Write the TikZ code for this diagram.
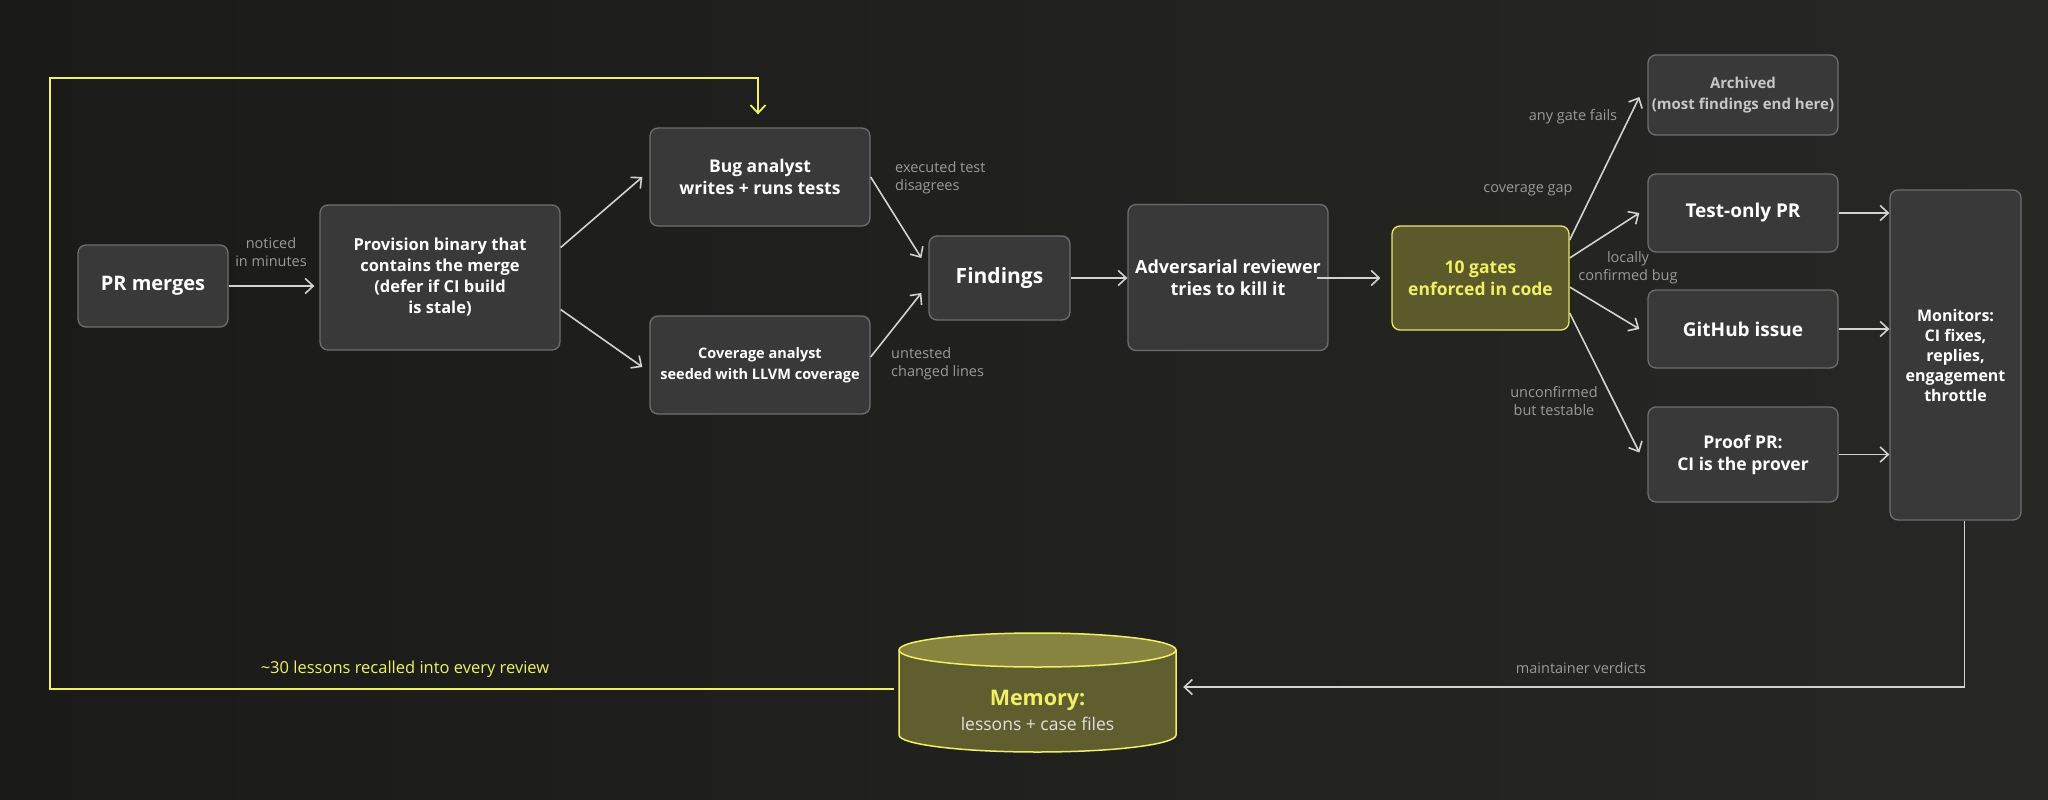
\documentclass[tikz,border=0pt]{standalone}
\usepackage{xcolor}
\usepackage{fontspec}
\setmainfont{Open Sans}
\usepackage{tikz}
\usetikzlibrary{arrows.meta,positioning,calc}

\definecolor{bgdark}{HTML}{1A1A19}
\definecolor{bglight}{HTML}{272723}
\definecolor{boxfill}{HTML}{393939}
\definecolor{boxline}{HTML}{6E6E6E}
\definecolor{gatefill}{HTML}{5C5A2A}
\definecolor{gateline}{HTML}{E8E878}
\definecolor{memtop}{HTML}{86843F}
\definecolor{membody}{HTML}{605E2E}
\definecolor{loopyellow}{HTML}{F0F066}
\definecolor{linkgray}{HTML}{D2D2D2}
\definecolor{labelgray}{HTML}{9A9A9A}

\newcommand{\fs}[2]{\fontsize{#1}{#2}\selectfont}

\tikzset{
  stagebox/.style={draw=boxline, fill=boxfill, line width=1.3pt, rounded corners=8pt,
    align=center, text=white, inner sep=0pt, font=\bfseries},
  link/.style={draw=linkgray, line width=1.6pt, -{Straight Barb[length=8pt,width=15pt]}},
  edgelabel/.style={text=labelgray, align=center, inner sep=0pt, font=\fs{14.5}{18}},
}

\begin{document}
\begin{tikzpicture}[x=1pt, y=-1pt]
            % background
            \shade[left color=bgdark, right color=bglight] (0,0) rectangle (2048,800);
            \useasboundingbox (0,0) rectangle (2048,800);
            % pipeline
            \node[stagebox, minimum width=150, minimum height=82, font=\bfseries\fs{20}{24}] (pr) at (153,286) {PR merges};
            \node[stagebox, minimum width=240, minimum height=145, font=\bfseries\fs{16.5}{21}] (prov) at (440,277.5) {Provision binary that\\contains the merge\\(defer if CI build\\is stale)};
            \node[stagebox, minimum width=220, minimum height=98, font=\bfseries\fs{17.5}{22}] (bug) at (760,177) {Bug analyst\\writes + runs tests};
            \node[stagebox, minimum width=220, minimum height=98, font=\bfseries\fs{14.5}{21}] (cov) at (760,365) {Coverage analyst\\seeded with LLVM coverage};
            \node[stagebox, minimum width=141, minimum height=84, font=\bfseries\fs{21}{24}] (find) at (999.5,278) {Findings};
            \node[stagebox, minimum width=200, minimum height=146, font=\bfseries\fs{18}{22}] (adv) at (1228,277.5) {Adversarial reviewer\\tries to kill it};
            \node[stagebox, draw=gateline, fill=gatefill, text=loopyellow, minimum width=177, minimum height=104, font=\bfseries\fs{17.5}{22}] (gates) at (1480.5,278) {10 gates\\enforced in code};
            % outcomes
            \node[stagebox, text=white!78!black, minimum width=190, minimum height=80, font=\bfseries\fs{15}{21}] (arch) at (1743,95) {Archived\\(most findings end here)};
            \node[stagebox, minimum width=190, minimum height=78, font=\bfseries\fs{19}{23}] (testpr) at (1743,213) {Test-only PR};
            \node[stagebox, minimum width=190, minimum height=78, font=\bfseries\fs{19}{23}] (issue) at (1743,329) {GitHub issue};
            \node[stagebox, minimum width=190, minimum height=95, font=\bfseries\fs{17.5}{22}] (proof) at (1743,454.5) {Proof PR:\\CI is the prover};
            \node[stagebox, minimum width=131, minimum height=330, font=\bfseries\fs{16}{20}] (mon) at (1955.5,355) {Monitors:\\CI fixes,\\replies,\\engagement\\throttle};
            % memory store
            \node[minimum width=277, minimum height=121, inner sep=0pt] (memory) at (1037.5,692.5) {};
            \draw[draw=loopyellow, fill=membody, line width=1.5pt] (899,650) -- (899,735)
                  arc[start angle=180, end angle=360, x radius=138.5pt, y radius=17pt] -- (1176,650);
            \draw[draw=loopyellow, fill=memtop, line width=1.5pt] (1037.5,650) ellipse[x radius=138.5pt, y radius=17pt];
            \node[align=center, inner sep=0pt] (memtext) at (1037.5,710.5)
                  {{\color{loopyellow}\bfseries\fs{21.5}{24}Memory:}\\[6pt]{\color{white!88!black}\fs{17.5}{20}lessons + case files}};
            % arrows
            \draw[link, shorten >=5pt] (pr.east) -- (pr.east -| prov.west);
            \draw[link] ([yshift=30pt]prov.east) -- ([xshift=-7pt]bug.west);
            \draw[link] ([yshift=-32pt]prov.east) -- ([xshift=-7pt,yshift=-2pt]cov.west);
            \draw[link] (bug.east) -- ([xshift=-7pt,yshift=20pt]find.west);
            \draw[link] ([yshift=8pt]cov.east) -- ([xshift=-7pt,yshift=-15pt]find.west);
            \draw[link] (find.east) -- (find.east -| adv.west);
            \draw[link] ([xshift=-12pt]adv.east |- gates.west) -- ([xshift=-11pt]gates.west);
            \draw[link] ([yshift=38pt]gates.east) -- ([xshift=-8pt,yshift=-2pt]arch.west);
            \draw[link] ([yshift=20pt]gates.east) -- ([xshift=-8pt]testpr.west);
            \draw[link] ([yshift=-9pt]gates.east) -- ([xshift=-8pt]issue.west);
            \draw[link] ([yshift=-35pt]gates.east) -- ([xshift=-8pt,yshift=2pt]proof.west);
            \draw[link] (testpr.east) -- (testpr.east -| mon.west);
            \draw[link] (issue.east) -- (issue.east -| mon.west);
            \draw[link] (proof.east) -- (proof.east -| mon.west);
            % feedback loops
            \draw[link] ([xshift=9pt]mon.south) |- ([xshift=7pt,yshift=5.5pt]memory.east);
            \coordinate (loopcorner) at (50,78);
            \draw[draw=loopyellow, line width=1.8pt, -{Straight Barb[length=8pt,width=15pt]}, shorten >=13pt]
                  ([xshift=-5pt,yshift=3.5pt]memory.west) -| (loopcorner) -| ([xshift=-2pt]bug.north);
            % labels
            \node[edgelabel] (noticed) at (271,252) {noticed\\in minutes};
            \node[edgelabel, anchor=west, align=left] (disagree) at (895,178) {executed test\\disagrees};
            \node[edgelabel, anchor=west, align=left] (untested) at (891,364) {untested\\changed lines};
            \node[edgelabel] (anyfail) at (1573,117) {any gate fails};
            \node[edgelabel] (covgap) at (1528,190) {coverage gap};
            \node[edgelabel] (locally) at (1628,268) {locally\\confirmed bug};
            \node[edgelabel] (unconf) at (1554,401) {unconfirmed\\but testable};
            \node[edgelabel] (verdicts) at (1581,668) {maintainer verdicts};
            \node[edgelabel, text=loopyellow, font=\fs{16.5}{18}] (recall) at (405,669) {\textasciitilde30 lessons recalled into every review};
\end{tikzpicture}
\end{document}
